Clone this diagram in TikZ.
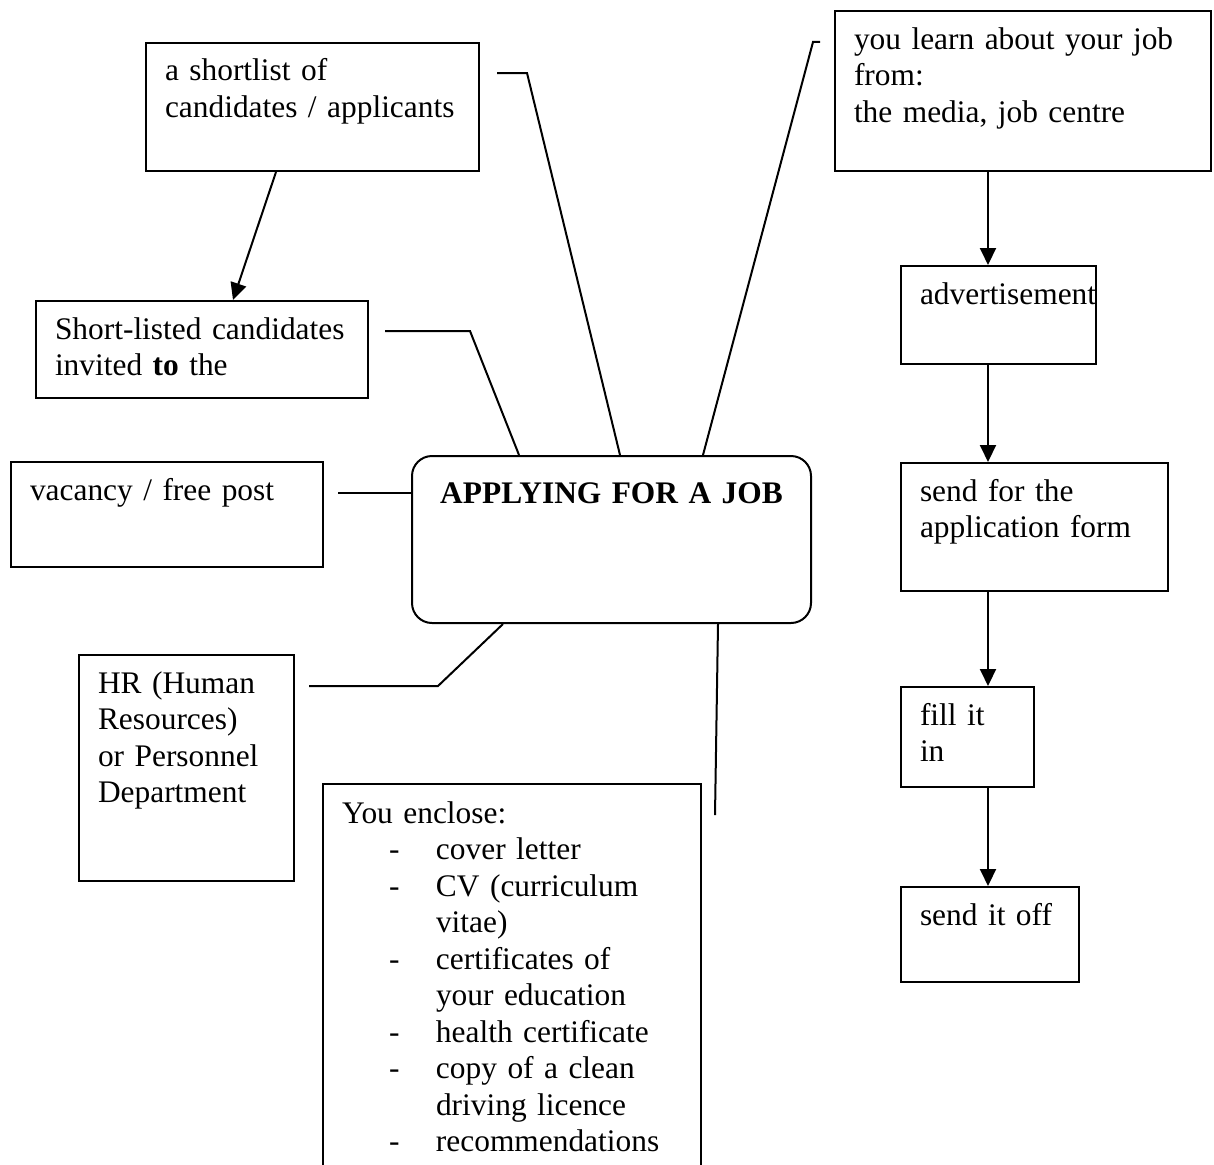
\documentclass[tikz,border=0pt]{standalone}
\usepackage{fontspec}
\setmainfont{Liberation Serif}
\usetikzlibrary{arrows.meta,positioning,calc}
\newcommand{\dashitem}[1]{\hspace*{47pt}\makebox[47pt][l]{-}#1}
\newcommand{\dashcont}[1]{\hspace*{94pt}#1}

\begin{document}
\begin{tikzpicture}[
  x=1pt, y=-1pt,
  box/.style={draw, line width=2pt, anchor=north west, align=left, inner xsep=19pt, inner ysep=0pt, text height=38pt, font=\fontsize{31.4pt}{36.5pt}\selectfont},
  hub/.style={draw, line width=2pt, rounded corners=20pt, anchor=north west, align=center, inner xsep=19pt, inner ysep=0pt, text height=47pt, text depth=120pt, text width=361pt, font=\fontsize{31.4pt}{36.5pt}\selectfont\bfseries},
  arr/.style={-{Triangle[length=17pt,width=16pt]}, line width=2pt},
  link/.style={line width=2pt}
]
\useasboundingbox (0,0) rectangle (1214,1164);

\node[hub] (main) at (411,455) {APPLYING FOR A JOB};

\node[box, text width=295pt, text depth=90pt] (shortlist) at (145,42) {a shortlist of\\candidates / applicants};
\node[box, text width=294pt, text depth=59pt] (shortc) at (35,300) {Short-listed candidates\\invited \textbf{to} the};
\node[box, text width=274pt, text depth=67pt] (vacancy) at (10,461) {vacancy / free post};
\node[box, text width=177pt, text depth=188pt] (hr) at (78,654) {HR (Human\\Resources)\\or Personnel\\Department};
\node[box, text width=340pt, text depth=400pt, text height=39pt] (encl) at (322,783) {You enclose:\\
  \dashitem{cover letter}\\
  \dashitem{CV (curriculum}\\
  \dashcont{vitae)}\\
  \dashitem{certificates of}\\
  \dashcont{your education}\\
  \dashitem{health certificate}\\
  \dashitem{copy of a clean}\\
  \dashcont{driving licence}\\
  \dashitem{recommendations}};

\node[box, text width=338pt, text depth=122pt] (learn) at (834,10) {you learn about your job\\from:\\the media, job centre};
\node[box, text width=157pt, text depth=60pt] (advert) at (900,265) {advertisement};
\node[box, text width=229pt, text depth=90pt, below=97pt of advert.south west, anchor=north west] (sendfor) {send for the\\application form};
\node[box, text width=95pt, text depth=62pt, below=94pt of sendfor.south west, anchor=north west] (fill) {fill it\\in};
\node[box, text width=140pt, text depth=57pt, below=98pt of fill.south west, anchor=north west] (sendoff) {send it off};

\coordinate (col) at (988,0);
\coordinate (enclend) at (715,815);

\draw[arr] ($(shortlist.south west)+(131,0)$) -- ($(shortc.north west)+(198,0)$);
\draw[link] ($(shortlist.north east)+(17,31)$) -- ++(30,0) -- ($(main.north west)+(209,0)$);
\draw[link] ($(shortc.north east)+(16,31)$) -- ++(85,0) -- ($(main.north west)+(108,0)$);
\draw[link] ($(vacancy.north east)+(14,32)$) -- ($(main.north west)+(0,38)$);
\draw[link] ($(hr.north east)+(14,32)$) -- ++(129,0) -- ($(main.south west)+(92,0)$);
\draw[link] ($(main.south west)+(307,0)$) -- (enclend);
\draw[link] ($(main.north west)+(292,0)$) -- ($(learn.north west)+(-21,32)$) -- ++(7,0);

\draw[arr] (learn.south -| col) -- (advert.north -| col);
\draw[arr] (advert.south -| col) -- (sendfor.north -| col);
\draw[arr] (sendfor.south -| col) -- (fill.north -| col);
\draw[arr] (fill.south -| col) -- (sendoff.north -| col);
\end{tikzpicture}
\end{document}
